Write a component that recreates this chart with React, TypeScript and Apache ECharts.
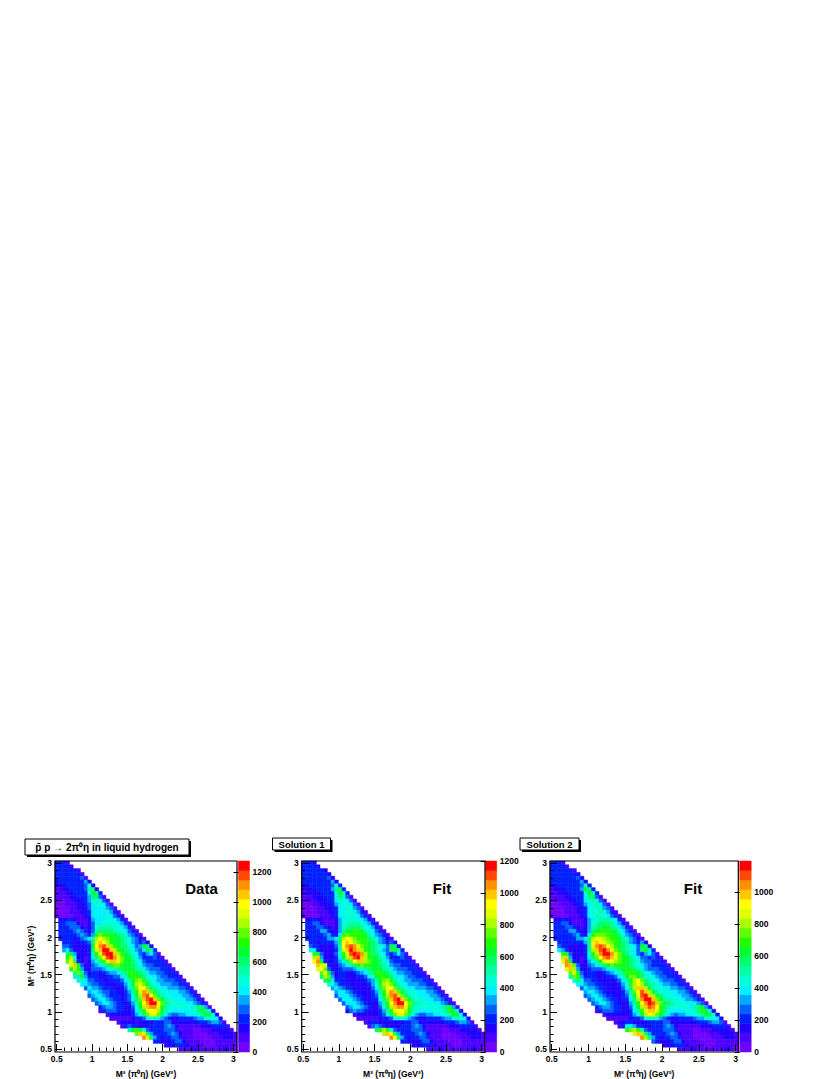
import React, { useEffect, useRef } from "react";
import * as echarts from "echarts";

// Cell contents are colour-band indices ("." = empty, 0-9 a-j = band 0-19); rows run top to bottom.
const dataRows = [
  "3331","33331","3333331","33333331","333333341","2333333352","22233333472","112233334892","1112233336a93","11112233359941",
  "100112223577641","0001112234677641","00001122246666541","000011122366667531","1000011123666676431",
  ".2233211125666776531",".3344421124667777653"+"1",".3334442124788887765"+"31",".3333454324899998776"+"431",".3333345435acbbaa987"+"5431",
  ".3333234568dfdcbaa98"+"75421","..333223349egfdbaa98"+"754342","..44322223afhigdba99"+"7645a92","..564222239egjjgdba9"+"87546a83",
  "...9a522238beijjgdba"+"976435641","...bd7221369cfijheca"+"a875333431","...cf93212579beggeca"+"a9764333331","....egb42245689bccba"+"a98754433331",
  "....bda522444567899a"+"aa88654443331",".....9c9423323455689"+"bba98655443331",".....68a533322334467"+"abba97665443331","......67644332233346"+"8acdb87655444331",
  ".......6654433222335"+"7adeca87655544331","........465543332224"+"69cffc987665554431",".........56654433223"+"58behgca87766655431",".........45665433323"+"47adhifc987766655431",
  "..........4566543323"+"469cgijgca87766655431","...........456654332"+"358bfhjjfc987777665431","............34554332"+"247adghheb8777777689951","............13444332"+"2368beffda8766666779a962",
  "..............122222"+"23579ceec965445566678aa72","...............11111"+"1233467865"+"4322333345"+"577762",".................122"+"2212222333"+"4422222223"+"3345541","..................13"+"4332223333"+"4542111111"+"22233331",
  "...................."+"8aba743333"+"4443111100"+"111222221","...................."+"..cge95333"+"3454211100"+"0011122221","...................."+"....he9532"+"3344311100"+"0001112221",
  "...................."+".......332"+"2234421111"+"0000111111","...................."+".........."+"2223332111"+"1000111111","...................."+".........."+"....111221"+"1111112210",
];
const solution1Rows = [
  "3332","33332","3333332","33333332","333333342","3333333352","22333333473","222233335993","1222233337a83","11122233369841",
  "011122233677641","0001122235677641","00001122236677541","000011122367777531","1000011123667776431",
  ".2232211125677776531",".3344211125778887653"+"1",".3334432125889998765"+"31",".33335532258aabba876"+"431",".3333345326bcbbbba87"+"5431",
  ".3333335569dfecbbb98"+"75421","..332333359fgfdcbba9"+"854342","..433222248fhihecba9"+"8764a92","..763222238egjhgdba9"+"87549a83",
  "...ba422247beijihdb9"+"976434641","...dg522236adgijgdba"+"a875333431","...fha3223579cfggdca"+"a9764333331","....gee32245689bcbba"+"a98754433331",
  "....efc422344456789a"+"aa88654443331",".....cfa423322345689"+"bba98655443331",".....9dc523322233467"+"abba97665443331","......9a633322222345"+"8acdb87655444331",
  ".......7753332222235"+"7bdeca87655544331","........565433222224"+"69cffc987665554431",".........56654322223"+"58behgca87766655431",".........46665433223"+"47adhigc987766655431",
  "..........4666543223"+"369cgijgca87766655431","...........466654322"+"258bfhjjfc987777665431","............45665432"+"247adghheb8777777689a51","............24544322"+"2358beffda8766667779ba62",
  "..............122222"+"23479ceec965445566778aa72","...............11111"+"1233467765"+"4322333345"+"577762",".................123"+"3222222233"+"4422222223"+"3345541","..................14"+"5432222333"+"4542111111"+"22233331",
  "...................."+"9bdb743333"+"4443111100"+"111222221","...................."+"..dgf95333"+"3454211100"+"0011122221","...................."+"....hf9532"+"3344311100"+"0001112221",
  "...................."+".......332"+"2234421111"+"0000111111","...................."+".........."+"2223332111"+"1000111111","...................."+".........."+"....111221"+"1111112210",
];
const solution2Rows = [
  "3331","33331","3333331","33333332","333333342","3333333352","22333333483","122233335a93","1122233337a83","11112233369941",
  "011112233678741","0001112235678641","00001112236778541","000011122367787531","1000011123678776431",
  ".2232211125678887631",".3344211125789998653"+"1",".3334432125899aa9865"+"31",".33335532259abbbaa76"+"431",".3333345326bcccbba97"+"5431",
  ".3333335569dfedcbba8"+"75421","..332333359egfedcba9"+"854352","..433222238ehihfdba9"+"8764a92","..653222238dgijhecb9"+"87649a83",
  "...ba422237bdhjjheca"+"976435641","...dg5221369cfhigeca"+"a976443431","...eha3212578beffdcb"+"a9875443331","....hgc42245689acbba"+"a98765433331",
  "....egd522344456789a"+"ba98654443331",".....cea423322345689"+"bbba9765443331",".....8cb533322233467"+"acca97765443331","......79744332222346"+"8adfc98765444331",
  ".......6654433222235"+"7bdfda88765544331","........465543322224"+"69dggda87766554431",".........56654322223"+"58cfigda87776655431",".........45665433223"+"47aeijgdb97776655431",
  "..........4566543323"+"369dhjjgca88777655431","...........456654322"+"258bfhjigc"+"a987777665"+"41","............34554332"+"247adgihfb"+"9877777689"+"a51","............13444332"+"2368beggeb"+"9766667779"+"ba62",
  "..............122222"+"2357adfeca"+"8654556677"+"8aa72","...............11111"+"1233468875"+"4322333345"+"577762",".................122"+"3322223333"+"4422222223"+"3345541","..................13"+"6653322333"+"4542111111"+"22233331",
  "...................."+"bcdb843333"+"4443111100"+"111222221","...................."+"..egd95333"+"3454211100"+"0011122221","...................."+"....hd9532"+"3344311100"+"0001112221",
  "...................."+".......432"+"2234421111"+"0000111111","...................."+".........."+"2223332111"+"1000111111","...................."+".........."+"....111221"+"1111112210",
];

const bandColors = [
  "#7000ff","#4c00ff","#2000ff","#0020ff","#0060ff","#00a8ff","#00f0ff","#00ffd8","#00ffa8","#00ff70",
  "#00ff30","#20ff00","#60ff00","#a8ff00","#e0ff00","#ffff00","#ffc800","#ff9000","#ff4800","#ff0000",
];
const majorTicks = [0.5, 1, 1.5, 2, 2.5, 3];
const minorTicks = [0.6, 0.7, 0.8, 0.9, 1.1, 1.2, 1.3, 1.4, 1.6, 1.7, 1.8, 1.9, 2.1, 2.2, 2.3, 2.4, 2.6, 2.7, 2.8, 2.9];
const barTicks = [[0, 200, 400, 600, 800, 1000, 1200], [0, 200, 400, 600, 800, 1000, 1200], [0, 200, 400, 600, 800, 1000]];
const panelRows = [dataRows, solution1Rows, solution2Rows];
const panelMax = [1273, 1200, 1192];
const panelLabels = ["Data", "Fit", "Fit"];
const axisTitle = "M² (π⁰η) (GeV²)";
const titles = ["p̄ p → 2π⁰η in liquid hydrogen", "Solution 1", "Solution 2"];

const layouts = [
  { left: 55, width: 182, barLeft: 238.5, barWidth: 11, xMin: 0.476, xMax: 3.053, labelX: 201.5 },
  { left: 301.7, width: 183.3, barLeft: 485.7, barWidth: 11, xMin: 0.478, xMax: 3.046, labelX: 442 },
  { left: 550, width: 188.3, barLeft: 739.7, barWidth: 11.5, xMin: 0.477, xMax: 3.035, labelX: 693 },
];
const titleBoxes = [
  { x: 25, y: 839, w: 164, h: 16, size: 10 },
  { x: 272.5, y: 838, w: 58, h: 12, size: 9.5 },
  { x: 520, y: 838, w: 59, h: 12, size: 9.5 },
];
const TOP = 861, HEIGHT = 191, Y_MIN = 0.473, Y_MAX = 3.03, BINS = 50;
const FONT = '"Liberation Sans", Arial, sans-serif';

const cellRender = (binW: number, binH: number, band: number) => (_: any, api: any) => {
  const xl = api.value(0), yl = api.value(1), v = api.value(2);
  const a = api.coord([xl, yl + binH]);
  const b = api.coord([xl + binW, yl]);
  const color = bandColors[Math.min(19, Math.floor(v / band))];
  return {
    type: "rect",
    shape: { x: a[0], y: a[1], width: b[0] - a[0], height: b[1] - a[1] },
    style: { fill: color, stroke: color, lineWidth: 0.5 },
  };
};
const barRender = (band: number) => (_: any, api: any) => {
  const i = api.value(0);
  const a = api.coord([0, (i + 1) * band]);
  const b = api.coord([1, i * band]);
  return {
    type: "rect",
    shape: { x: a[0], y: a[1], width: b[0] - a[0], height: b[1] - a[1] },
    style: { fill: bandColors[i], stroke: bandColors[i], lineWidth: 0.5 },
  };
};

function buildOption() {
  const grid: any[] = [], xAxis: any[] = [], yAxis: any[] = [], series: any[] = [], graphic: any[] = [];
  const labelStyle = { color: "#000", fontFamily: FONT, fontSize: 8.5, fontWeight: "bold" };
  const tickLine = { color: "#000", width: 1 };
  layouts.forEach((l, p) => {
    const g = grid.length;
    grid.push({ left: l.left, top: TOP, width: l.width, height: HEIGHT, show: false });
    grid.push({ left: l.barLeft, top: TOP, width: l.barWidth, height: HEIGHT, show: false });
    const binW = (l.xMax - l.xMin) / BINS, binH = (Y_MAX - Y_MIN) / BINS;
    const band = panelMax[p] / 20;
    const cells: number[][] = [];
    panelRows[p].forEach((row, r) => {
      row.split("").forEach((ch, c) => {
        if (ch === ".") return;
        cells.push([l.xMin + c * binW, Y_MAX - (r + 1) * binH, (parseInt(ch, 20) + 0.5) * band]);
      });
    });
    const xi = xAxis.length, yi = yAxis.length;
    xAxis.push({
      type: "value", gridIndex: g, min: l.xMin, max: l.xMax, position: "bottom", z: 5,
      axisLine: { show: false }, splitLine: { show: false },
      axisTick: { inside: true, length: 7, lineStyle: tickLine, customValues: majorTicks },
      axisLabel: { ...labelStyle, margin: 3, customValues: majorTicks, hideOverlap: false },
      name: axisTitle, nameLocation: "middle", nameGap: 18,
      nameTextStyle: { color: "#000", fontFamily: FONT, fontSize: 8.5, fontWeight: "bold" },
    });
    xAxis.push({
      type: "value", gridIndex: g, min: l.xMin, max: l.xMax, position: "bottom", z: 5,
      axisLine: { show: false }, splitLine: { show: false }, axisLabel: { show: false },
      axisTick: { inside: true, length: 3.5, lineStyle: tickLine, customValues: minorTicks },
    });
    yAxis.push({
      type: "value", gridIndex: g, min: Y_MIN, max: Y_MAX, position: "left", z: 5,
      axisLine: { show: false }, splitLine: { show: false },
      axisTick: { inside: true, length: 7, lineStyle: tickLine, customValues: majorTicks },
      axisLabel: { ...labelStyle, margin: 3, customValues: majorTicks, hideOverlap: false },
      ...(p === 0 ? {
        name: axisTitle, nameLocation: "middle", nameGap: 20, nameRotate: 90,
        nameTextStyle: { color: "#000", fontFamily: FONT, fontSize: 8.5, fontWeight: "bold" },
      } : {}),
    });
    yAxis.push({
      type: "value", gridIndex: g, min: Y_MIN, max: Y_MAX, position: "left", z: 5,
      axisLine: { show: false }, splitLine: { show: false }, axisLabel: { show: false },
      axisTick: { inside: true, length: 3.5, lineStyle: tickLine, customValues: minorTicks },
    });
    series.push({
      type: "custom", xAxisIndex: xi, yAxisIndex: yi, data: cells, silent: true, z: 2,
      encode: { x: 0, y: 1 }, renderItem: cellRender(binW, binH, band),
    });
    const bxi = xAxis.length, byi = yAxis.length;
    xAxis.push({ type: "value", gridIndex: g + 1, min: 0, max: 1, show: false });
    yAxis.push({
      type: "value", gridIndex: g + 1, min: 0, max: panelMax[p], position: "right", z: 5,
      axisLine: { show: false }, splitLine: { show: false },
      axisTick: { inside: true, length: 5, lineStyle: tickLine, customValues: barTicks[p] },
      axisLabel: { ...labelStyle, margin: 3, customValues: barTicks[p], formatter: (v: number) => String(v), hideOverlap: false },
    });
    series.push({
      type: "custom", xAxisIndex: bxi, yAxisIndex: byi, silent: true, z: 2,
      data: bandColors.map((_, i) => [i]), encode: { y: 0 }, renderItem: barRender(band),
    });
    graphic.push({
      type: "rect", z: 100, silent: true,
      shape: { x: l.left, y: TOP, width: l.width, height: HEIGHT },
      style: { fill: "none", stroke: "#000", lineWidth: 1.2 },
    });
    graphic.push({
      type: "text", z: 100, x: l.labelX, y: 888, silent: true,
      style: { text: panelLabels[p], fill: "#000", font: `bold 15px ${FONT}`, textAlign: "center", textVerticalAlign: "middle" },
    });
    const t = titleBoxes[p];
    graphic.push({ type: "rect", z: 100, silent: true, shape: { x: t.x + 2, y: t.y + 2, width: t.w, height: t.h }, style: { fill: "#000" } });
    graphic.push({ type: "rect", z: 101, silent: true, shape: { x: t.x, y: t.y, width: t.w, height: t.h }, style: { fill: "#fff", stroke: "#000", lineWidth: 1 } });
    graphic.push({
      type: "text", z: 102, x: t.x + t.w / 2, y: t.y + t.h / 2, silent: true,
      style: { text: titles[p], fill: "#000", font: `bold ${t.size}px ${FONT}`, textAlign: "center", textVerticalAlign: "middle" },
    });
  });
  return { animation: false, backgroundColor: "#fff", grid, xAxis, yAxis, series, graphic };
}

export default function App() {
  const ref = useRef<HTMLDivElement>(null);
  useEffect(() => {
    const chart = echarts.init(ref.current!, undefined, { renderer: "svg" });
    chart.setOption(buildOption() as any);
    return () => chart.dispose();
  }, []);
  return <div ref={ref} style={{ position: "absolute", left: 0, top: 0, width: 834, height: 1079 }} />;
}
